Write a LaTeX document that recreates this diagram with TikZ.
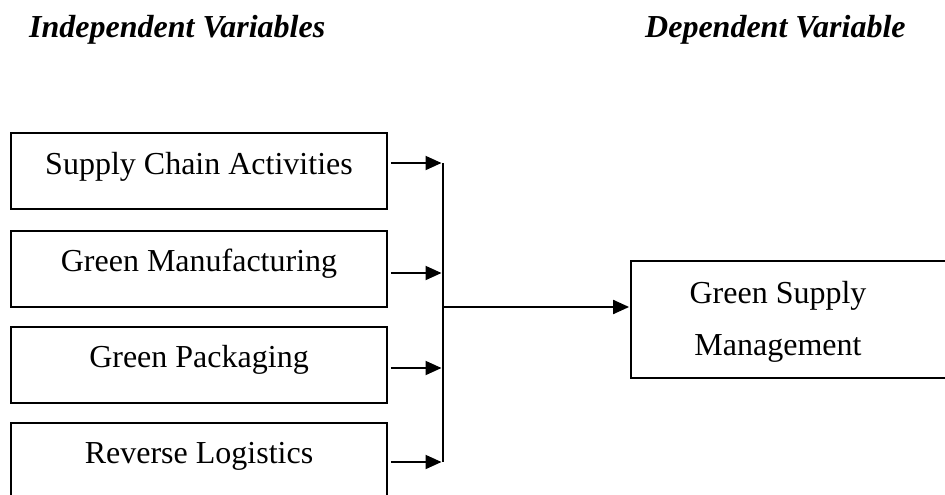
\documentclass[tikz,border=0pt]{standalone}
\usepackage{fontspec}
\setmainfont{Liberation Serif}
\usetikzlibrary{arrows.meta}
\tikzset{
  box/.style={draw=black, line width=1.8pt, rectangle, inner sep=0pt},
  txt/.style={anchor=base, inner sep=0pt, font=\fontsize{32}{38}\selectfont},
  head/.style={anchor=base west, inner sep=0pt, font=\fontsize{32}{38}\selectfont\bfseries\itshape},
  arr/.style={line width=2pt, -{Triangle[length=16pt,width=14pt]}},
  bar/.style={line width=1.4pt}
}
\begin{document}
\begin{tikzpicture}[x=1pt,y=-1pt]
\useasboundingbox (0,0) rectangle (945,495);
\clip (0,0) rectangle (945,495);
\fill[white] (0,0) rectangle (945,495);
% headers
\node[head] (hi) at (29,38) {Independent Variables};
\node[head] (hd) at (645,38) {Dependent Variable};
% left boxes
\node[box, minimum width=376pt, minimum height=76pt] (b1) at (199,171) {};
\node[box, minimum width=376pt, minimum height=76pt] (b2) at (199,269) {};
\node[box, minimum width=376pt, minimum height=76pt] (b3) at (199,365) {};
\node[box, minimum width=376pt, minimum height=90pt] (b4) at (199,468) {};
\node[txt] (l1) at (199,174) {Supply Chain Activities};
\node[txt] (l2) at (199,271) {Green Manufacturing};
\node[txt] (l3) at (199,367.5) {Green Packaging};
\node[txt] (l4) at (199,463.5) {Reverse Logistics};
% right box
\node[box, minimum width=340pt, minimum height=117pt] (g) at (801,319.5) {};
\node[txt] (g1) at (778,303) {Green Supply};
\node[txt] (g2) at (778,355) {Management};
% junction
\coordinate (j1) at (443,163);
\coordinate (j2) at (443,273);
\coordinate (j3) at (443,368);
\coordinate (j4) at (443,462);
\coordinate (jm) at (443,307);
\draw[bar] (j1) -- (j4);
\draw[arr] ([xshift=3pt]b1.east |- j1) -- ([xshift=-1.5pt]j1);
\draw[arr] ([xshift=3pt]b2.east |- j2) -- ([xshift=-1.5pt]j2);
\draw[arr] ([xshift=3pt]b3.east |- j3) -- ([xshift=-1.5pt]j3);
\draw[arr] ([xshift=3pt]b4.east |- j4) -- ([xshift=-1.5pt]j4);
\draw[arr] (jm) -- ([xshift=-1pt]g.west |- jm);
\end{tikzpicture}
\end{document}
